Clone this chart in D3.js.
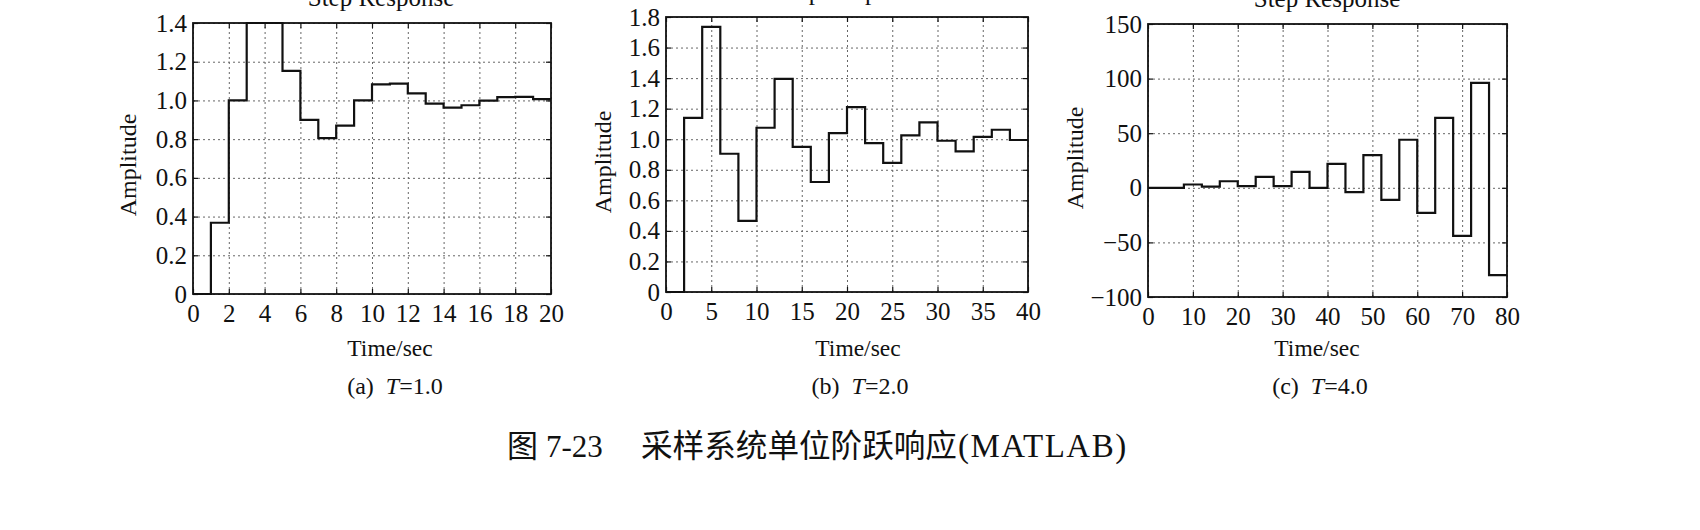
<!DOCTYPE html>
<html>
<head>
<meta charset="utf-8">
<script src="https://cdn.jsdelivr.net/npm/d3@7"></script>
<style>
  body { margin: 0; background: #fff; }
  svg { display: block; }
  text { font-family: 'Liberation Serif', 'Times New Roman', serif; fill: #111; }
  .grid line { stroke: #666; stroke-width: 1; stroke-dasharray: 2,3; }
  .grid .domain { display: none; }
  .axis .domain { display: none; }
  .axis line { stroke: #111; stroke-width: 1.2; }
  .axis text { font-size: 25px; fill: #111; }
</style>
</head>
<body>
<svg width="1700" height="530"></svg>
<script>
// sample periods (sec)
const periods = [1, 2, 4]

// step response samples c(kT), k = 0..19, held until the next sample
const respA = [0, 0.368, 1.0, 1.4, 1.4, 1.153, 0.9, 0.805, 0.87, 1.0,
  1.083, 1.087, 1.036, 0.984, 0.963, 0.975, 0.999, 1.017, 1.018, 1.007]
const respB = [0, 1.14, 1.735, 0.905, 0.465, 1.075, 1.395, 0.95, 0.72, 1.04,
  1.21, 0.975, 0.845, 1.025, 1.11, 0.99, 0.92, 1.015, 1.062, 0.995]
const respC = [0, 0, 3, 1, 6, 1.5, 10, 1.5, 14.5, 0,
  22, -4, 30, -11, 44, -23, 64, -44, 96, -80]

// tick values
const xTicksA = [0, 2, 4, 6, 8, 10, 12, 14, 16, 18, 20]
const xTicksB = [0, 5, 10, 15, 20, 25, 30, 35, 40]
const xTicksC = [0, 10, 20, 30, 40, 50, 60, 70, 80]
const yTicksA = [0, 0.2, 0.4, 0.6, 0.8, 1.0, 1.2, 1.4]
const yTicksB = [0, 0.2, 0.4, 0.6, 0.8, 1.0, 1.2, 1.4, 1.6, 1.8]
const yTicksC = [-100, -50, 0, 50, 100, 150]

const subLabels = ['(a)', '(b)', '(c)']
const periodText = ['1.0', '2.0', '4.0']
const caption = ['图', '7-23', '采样系统单位阶跃响应', '(MATLAB)']

// layout of the three panels (pixels)
const panels = [
  { left: 193, right: 551, top: 23, bottom: 294, titleX: 381, xlabX: 390, subX: 395, ampX: 136, ampY: 165,
    data: respA, T: periods[0], xTicks: xTicksA, yTicks: yTicksA, fmt: d => d === 0 ? '0' : d.toFixed(1) },
  { left: 666, right: 1028, top: 17, bottom: 292, titleX: 850, xlabX: 858, subX: 860, ampX: 611, ampY: 162,
    data: respB, T: periods[1], xTicks: xTicksB, yTicks: yTicksB, fmt: d => d === 0 ? '0' : d.toFixed(1) },
  { left: 1148, right: 1507, top: 24, bottom: 297, titleX: 1327, xlabX: 1317, subX: 1320, ampX: 1083, ampY: 158,
    data: respC, T: periods[2], xTicks: xTicksC, yTicks: yTicksC, fmt: d => d < 0 ? '\u2212' + Math.abs(d) : String(d) }
]

const svg = d3.select('svg')

panels.forEach((p, i) => {
  const w = p.right - p.left
  const h = p.bottom - p.top
  const x = d3.scaleLinear()
    .domain(d3.extent(p.xTicks))
    .range([0, w])
  const y = d3.scaleLinear()
    .domain(d3.extent(p.yTicks))
    .range([h, 0])

  const g = svg.append('g')
    .attr('transform', 'translate(' + p.left + ',' + p.top + ')')

  // dotted grid
  g.append('g')
    .attr('class', 'grid')
    .attr('transform', 'translate(0,' + h + ')')
    .call(d3.axisBottom(x).tickValues(p.xTicks).tickSize(-h).tickFormat(''))
  g.append('g')
    .attr('class', 'grid')
    .call(d3.axisLeft(y).tickValues(p.yTicks).tickSize(-w).tickFormat(''))

  // staircase response
  const pts = p.data.map((v, k) => [k * p.T, v])
  pts.push([p.data.length * p.T, p.data[p.data.length - 1]])
  const line = d3.line()
    .x(d => x(d[0]))
    .y(d => y(d[1]))
    .curve(d3.curveStepAfter)
  g.append('path')
    .datum(pts)
    .attr('fill', 'none')
    .attr('stroke', '#111')
    .attr('stroke-width', 2.2)
    .attr('d', line)

  // axes with inward ticks
  g.append('g')
    .attr('class', 'axis')
    .attr('transform', 'translate(0,' + h + ')')
    .call(d3.axisBottom(x).tickValues(p.xTicks).tickSize(-5).tickPadding(10))
  g.append('g')
    .attr('class', 'axis')
    .call(d3.axisLeft(y).tickValues(p.yTicks).tickSize(-5).tickPadding(6).tickFormat(p.fmt))
  g.append('g')
    .attr('class', 'axis')
    .call(d3.axisTop(x).tickValues(p.xTicks).tickSize(-5).tickFormat(''))
  g.append('g')
    .attr('class', 'axis')
    .attr('transform', 'translate(' + w + ',0)')
    .call(d3.axisRight(y).tickValues(p.yTicks).tickSize(-5).tickFormat(''))

  // box
  g.append('rect')
    .attr('width', w)
    .attr('height', h)
    .attr('fill', 'none')
    .attr('stroke', '#111')
    .attr('stroke-width', 1.8)

  // labels
  svg.append('text')
    .text('Step Response')
    .attr('x', p.titleX)
    .attr('y', p.top - 17)
    .attr('text-anchor', 'middle')
    .attr('font-size', 25)

  svg.append('text')
    .text('Amplitude')
    .attr('transform', 'translate(' + p.ampX + ',' + p.ampY + ') rotate(-90)')
    .attr('text-anchor', 'middle')
    .attr('font-size', 24)

  svg.append('text')
    .text('Time/sec')
    .attr('x', p.xlabX)
    .attr('y', 356)
    .attr('text-anchor', 'middle')
    .attr('font-size', 23.5)

  const sub = svg.append('text')
    .attr('x', p.subX)
    .attr('y', 394)
    .attr('text-anchor', 'middle')
    .attr('font-size', 24)
    .attr('xml:space', 'preserve')
  sub.append('tspan').text(subLabels[i] + '  ')
  sub.append('tspan').text('T').attr('font-style', 'italic')
  sub.append('tspan').text('=' + periodText[i])
})

// figure caption
const capFont = "'Liberation Serif', 'Noto Sans CJK SC', serif"
const cjkFont = "'Noto Sans CJK SC', sans-serif"
const capY = 457
svg.append('text').text(caption[0]).attr('x', 507).attr('y', capY)
  .attr('font-size', 31).style('font-family', cjkFont)
svg.append('text').text(caption[1]).attr('x', 546).attr('y', capY)
  .attr('font-size', 31).style('font-family', capFont)
svg.append('text').text(caption[2]).attr('x', 641).attr('y', capY)
  .attr('font-size', 31.6).style('font-family', cjkFont)
svg.append('text').text(caption[3]).attr('x', 958).attr('y', capY)
  .attr('font-size', 33)
  .attr('letter-spacing', 1.5)
  .style('font-family', capFont)
</script>
</body>
</html>
